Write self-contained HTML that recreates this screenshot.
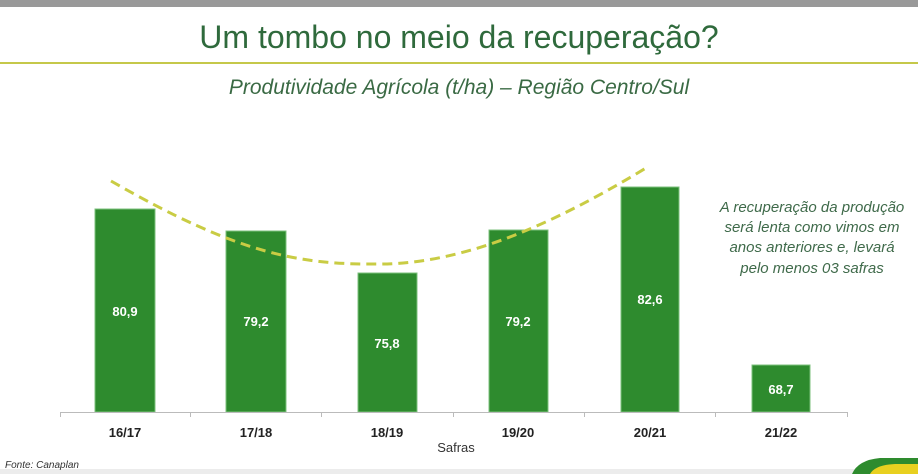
<!DOCTYPE html>
<html><head><meta charset="utf-8"><style>
body{margin:0;width:918px;height:474px;background:#fff;overflow:hidden;position:relative;font-family:"Liberation Sans",sans-serif}
.t{position:absolute;left:0;width:918px;text-align:center;white-space:nowrap}
</style></head><body>
<div style="position:absolute;left:0;top:0;width:918px;height:7px;background:#999"></div>
<div class="t" style="top:19px;font-size:32px;color:#2f6a3c">Um tombo no meio da recuperação?</div>
<div style="position:absolute;left:0;top:62px;width:918px;height:2px;background:#c5c84a"></div>
<div class="t" style="top:76px;font-size:21px;font-style:italic;color:#3a6a44">Produtividade Agrícola (t/ha) – Região Centro/Sul</div>
<svg width="918" height="474" style="position:absolute;left:0;top:0" font-family="Liberation Sans, sans-serif">
<rect x="0" y="469" width="918" height="5" fill="#ececec"/>
<g fill="#2e8b2e" stroke="#7cc07c" stroke-width="1">
<rect x="95" y="209" width="60" height="203"/>
<rect x="226" y="231" width="60" height="181"/>
<rect x="358" y="273" width="59" height="139"/>
<rect x="489" y="230" width="59" height="182"/>
<rect x="621" y="187" width="58" height="225"/>
<rect x="752" y="365" width="58" height="47"/>
</g>
<g fill="#fff" font-size="13" font-weight="bold" text-anchor="middle">
<text x="125" y="316">80,9</text><text x="256" y="326">79,2</text><text x="387" y="348">75,8</text>
<text x="518" y="326">79,2</text><text x="650" y="304">82,6</text><text x="781" y="394">68,7</text>
</g>
<path d="M111,181 C240,255 300,265 382,264 C470,263 560,220 646,168" fill="none" stroke="#c9cc44" stroke-width="3" stroke-dasharray="10,6"/>
<g stroke="#bbb" stroke-width="1">
<line x1="60" y1="412.5" x2="848" y2="412.5"/>
<line x1="60.5" y1="412" x2="60.5" y2="417"/><line x1="190.5" y1="412" x2="190.5" y2="417"/><line x1="321.5" y1="412" x2="321.5" y2="417"/>
<line x1="453.5" y1="412" x2="453.5" y2="417"/><line x1="584.5" y1="412" x2="584.5" y2="417"/><line x1="715.5" y1="412" x2="715.5" y2="417"/><line x1="847.5" y1="412" x2="847.5" y2="417"/>
</g>
<g fill="#222" font-size="13" font-weight="bold" text-anchor="middle">
<text x="125" y="437">16/17</text><text x="256" y="437">17/18</text><text x="387" y="437">18/19</text>
<text x="518" y="437">19/20</text><text x="650" y="437">20/21</text><text x="781" y="437">21/22</text>
</g>
<text x="456" y="452" font-size="13" fill="#333" text-anchor="middle">Safras</text>
<text x="5" y="468" font-size="10" font-style="italic" fill="#333">Fonte: Canaplan</text>
<g fill="#3f6a4a" font-size="15" font-style="italic" text-anchor="middle">
<text x="812" y="212">A recuperação da produção</text>
<text x="812" y="232">será lenta como vimos em</text>
<text x="812" y="252">anos anteriores e, levará</text>
<text x="812" y="273">pelo menos 03 safras</text>
</g>
<path d="M852,474 Q858,460 880,458 L918,458 L918,474 Z" fill="#2e8b2e"/>
<path d="M870,474 Q875,465 895,464 L918,464 L918,474 Z" fill="#e8d020"/>
</svg>
</body></html>
